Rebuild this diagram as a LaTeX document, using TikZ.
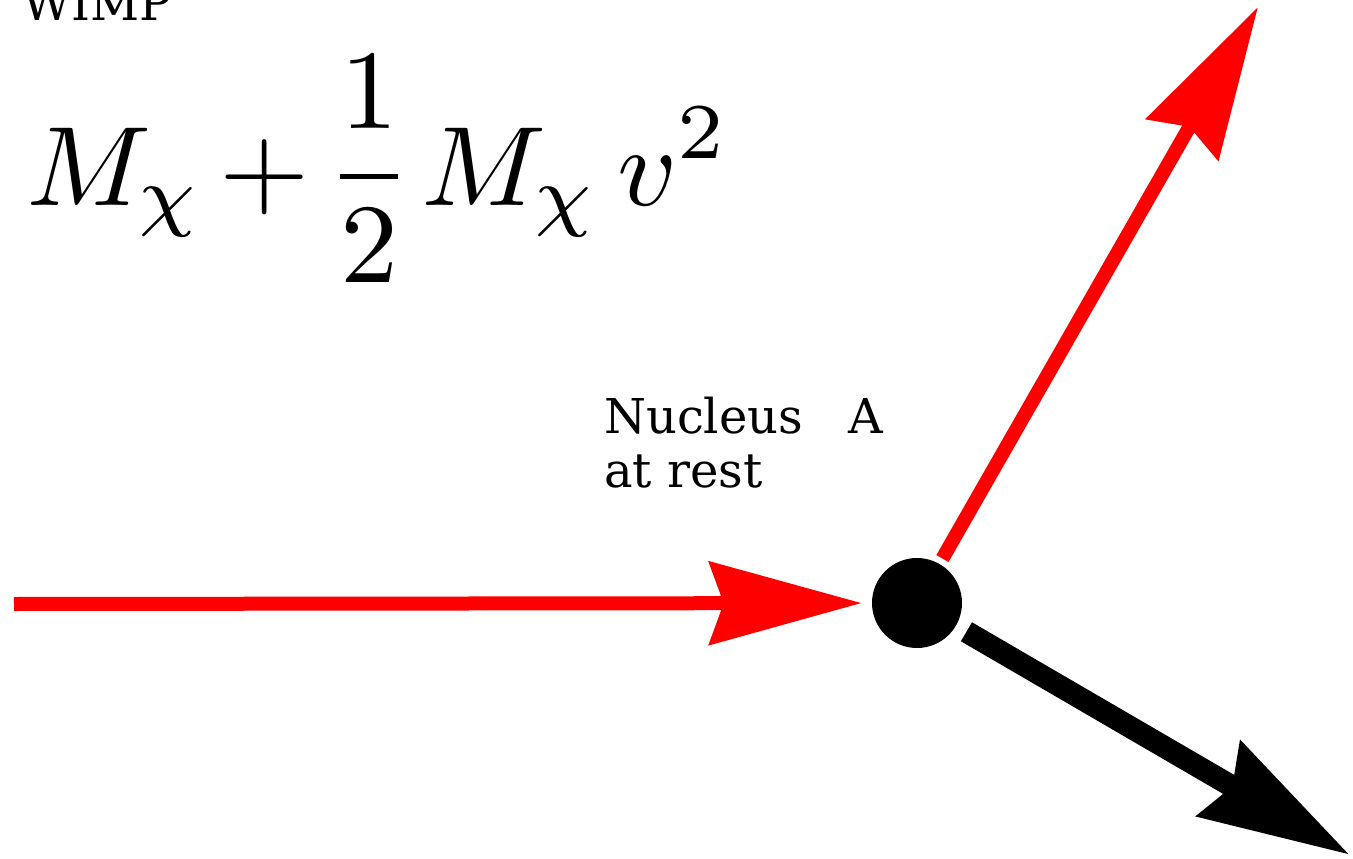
\documentclass[tikz,border=0pt]{standalone}
\usepackage{fontspec}
\usepackage{amsmath}
\newfontfamily\dvserif{DejaVu Serif}
\usetikzlibrary{arrows.meta}
\definecolor{arrowred}{RGB}{255,0,0}
\tikzset{
  lbl/.style={font=\dvserif\fontsize{48}{56}\selectfont, inner sep=0pt, anchor=base west, align=left},
  redarrow/.style={draw=arrowred, line width=14pt, -{Stealth[length=152pt, width=82pt, inset=14pt, fill=arrowred]}},
  blackarrow/.style={draw=black, line width=22pt, -{Stealth[length=150pt, width=84pt, inset=14pt]}},
}
\begin{document}
\begin{tikzpicture}[x=1pt,y=-1pt]
\useasboundingbox (0,0) rectangle (1353,859);
\node[lbl] (wimp) at (22,21) {WIMP};
\node[inner sep=0pt, anchor=base west, xscale=11.6, yscale=11.3] (formula) at (24,205)
  {\medmuskip=2.6mu $\displaystyle M_\chi + \frac{1}{2}\mskip1.5mu M_\chi\,v^2$};
\node[lbl] (label) at (604,487) {Nucleus\hspace{0.95em}A\\[-2pt]at rest};
\node[circle, fill=black, minimum size=90pt, inner sep=0pt] (nuc) at (917,603) {};
\coordinate (inp) at (14,604);
\coordinate (out1) at (1258,7);
\coordinate (out2) at (1350,855);
\draw[redarrow, shorten >=10pt] (inp) -- (nuc);
\draw[redarrow, shorten <=6pt] (nuc) -- (out1);
\draw[blackarrow, shorten <=12pt] (nuc) -- (out2);
\end{tikzpicture}
\end{document}
